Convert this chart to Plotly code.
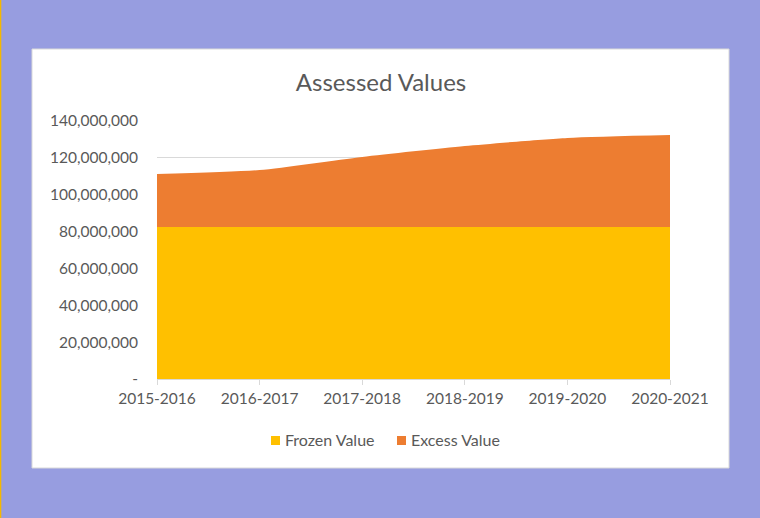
import plotly.graph_objects as go

years = ["2015-2016", "2016-2017", "2017-2018", "2018-2019", "2019-2020", "2020-2021"]
frozen_value = [82500000, 82500000, 82500000, 82500000, 82500000, 82500000]
excess_value = [28700000, 30900000, 38000000, 43900000, 48300000, 49900000]
y_ticks = [0, 20000000, 40000000, 60000000, 80000000, 100000000, 120000000, 140000000]
y_tick_text = ["-", "20,000,000", "40,000,000", "60,000,000", "80,000,000",
               "100,000,000", "120,000,000", "140,000,000"]
series_names = ["Frozen Value", "Excess Value"]

FONT = "Lato, 'Open Sans', sans-serif"
C_FROZEN = "#FFC000"
C_EXCESS = "#ED7D31"

fig = go.Figure()
fig.add_trace(go.Scatter(
    x=years, y=frozen_value, name=series_names[0], stackgroup="one",
    mode="none", fillcolor=C_FROZEN, line=dict(width=0),
))
fig.add_trace(go.Scatter(
    x=years, y=excess_value, name=series_names[1], stackgroup="one",
    mode="none", fillcolor=C_EXCESS, line=dict(width=0, shape="spline", smoothing=0.6),
))

L, R, T, B = 157, 90, 121, 139
W, H = 760, 518
pw, ph = W - L - R, H - T - B

def px(x):
    return (x - L) / pw

def py(y):
    return (H - B - y) / ph

# white chart panel
fig.add_shape(type="rect", xref="paper", yref="paper",
              x0=px(32), x1=px(729), y0=py(468), y1=py(49),
              fillcolor="white", line=dict(color="#D9D9D9", width=1), layer="below")
# thin yellow edge at the far left
fig.add_shape(type="rect", xref="paper", yref="paper",
              x0=px(0), x1=px(1.3), y0=py(H), y1=py(0),
              fillcolor="#F5B800", line=dict(width=0), layer="below")

# compact legend: square swatch directly followed by label
legend_items = [(series_names[0], C_FROZEN, 271), (series_names[1], C_EXCESS, 397)]
for name, col, x0 in legend_items:
    fig.add_shape(type="rect", xref="paper", yref="paper",
                  x0=px(x0), x1=px(x0 + 9), y0=py(445), y1=py(436),
                  fillcolor=col, line=dict(width=0))
    fig.add_annotation(text=name, xref="paper", yref="paper",
                       x=px(x0 + 11.5), y=py(439), xanchor="left", yanchor="middle",
                       showarrow=False, font=dict(size=16, color="#595959", family=FONT))

fig.update_layout(
    width=W, height=H,
    margin=dict(l=L, r=R, t=T, b=B),
    paper_bgcolor="#979DE0",
    plot_bgcolor="rgba(0,0,0,0)",
    font=dict(family=FONT, color="#595959", size=15),
    title=dict(text="Assessed Values", xref="container", x=381 / W, xanchor="center",
               yref="container", y=1 - 83 / H, yanchor="middle",
               font=dict(size=24, color="#595959", family=FONT)),
    showlegend=False,
    xaxis=dict(type="category", range=[0, 5], showgrid=False, showline=True,
               linecolor="#D9D9D9", linewidth=1, ticks="outside", ticklen=5,
               tickcolor="#D9D9D9", tickfont=dict(size=15.5, color="#595959"),
               zeroline=False),
    yaxis=dict(range=[0, 140000000], tickvals=y_ticks, ticktext=y_tick_text,
               showgrid=True, gridcolor="#D9D9D9", gridwidth=1, showline=False,
               zeroline=False, ticks="", ticklabelstandoff=18,
               tickfont=dict(size=15.5, color="#595959")),
)

fig.write_html("out.html")
